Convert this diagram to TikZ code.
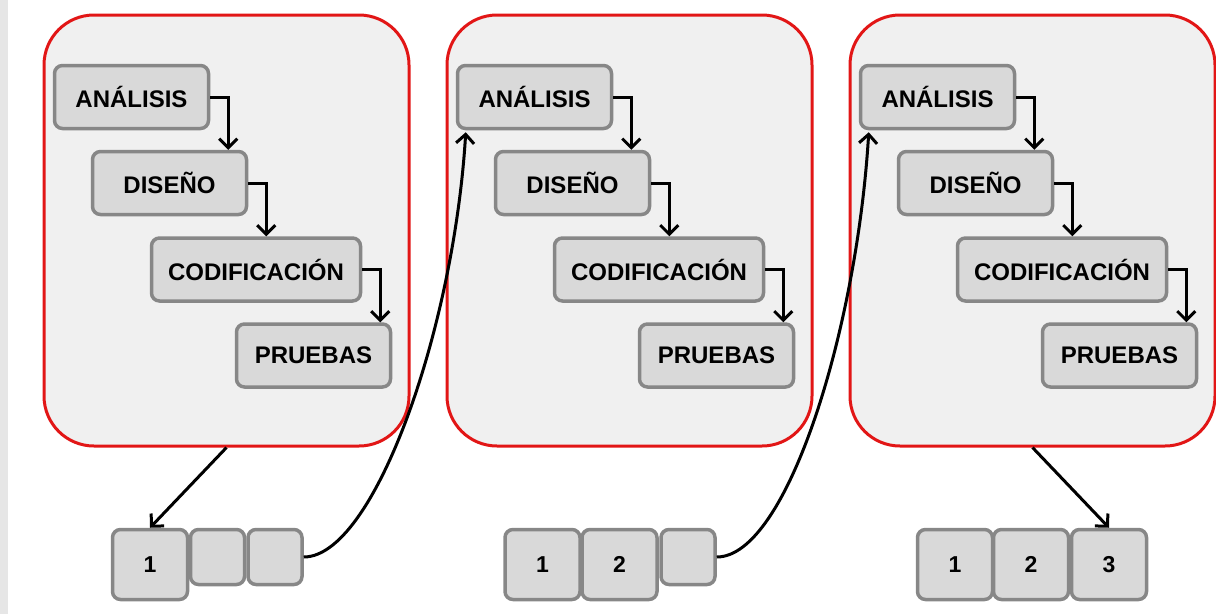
\documentclass[tikz,border=0pt]{standalone}
\usepackage{fontspec}
\setmainfont{Liberation Sans}
\usetikzlibrary{arrows.meta}
\definecolor{redline}{RGB}{226,22,22}
\definecolor{phasefill}{RGB}{240,240,240}
\definecolor{boxfill}{RGB}{217,217,217}
\definecolor{boxline}{RGB}{135,135,135}
\definecolor{stripgray}{RGB}{230,230,230}
\begin{document}
\begin{tikzpicture}[
x=1pt, y=-1pt,
phase/.style={rectangle, draw=redline, fill=phasefill, line width=3pt, rounded corners=50pt, minimum width=365pt, minimum height=431pt, inner sep=0pt},
task/.style={rectangle, draw=boxline, fill=boxfill, line width=3.5pt, rounded corners=8pt, minimum width=154pt, minimum height=63pt, font=\fontsize{24}{28}\selectfont\bfseries},
bigslot/.style={rectangle, draw=boxline, fill=boxfill, line width=3.5pt, rounded corners=8pt, minimum width=75pt, minimum height=70pt, font=\fontsize{23}{28}\selectfont\bfseries},
slot/.style={rectangle, draw=boxline, fill=boxfill, line width=3.5pt, rounded corners=8pt, minimum width=54pt, minimum height=55pt},
flow/.style={line width=3pt, -{Straight Barb[length=9pt, width=18pt]}},
]

\useasboundingbox (0,0) rectangle (1216,614);
\fill[stripgray] (0,0) rectangle (8,614);

\node (c1) [phase] at (226.5,230.5) {};
\node (c2) [phase] at (629.5,230.5) {};
\node (c3) [phase] at (1032.5,230.5) {};

\node (an1) [task] at (131.5,97) {ANÁLISIS};
\node (di1) [task] at (169.5,183) {DISEÑO};
\node (co1) [task, minimum width=209pt] at (256,269.5) {CODIFICACIÓN};
\node (pr1) [task] at (313.5,355.5) {PRUEBAS};

\node (an2) [task] at (534.5,97) {ANÁLISIS};
\node (di2) [task] at (572.5,183) {DISEÑO};
\node (co2) [task, minimum width=209pt] at (659,269.5) {CODIFICACIÓN};
\node (pr2) [task] at (716.5,355.5) {PRUEBAS};

\node (an3) [task] at (937.5,97) {ANÁLISIS};
\node (di3) [task] at (975.5,183) {DISEÑO};
\node (co3) [task, minimum width=209pt] at (1062,269.5) {CODIFICACIÓN};
\node (pr3) [task] at (1119.5,355.5) {PRUEBAS};

\draw[flow] (an1.east) -- ++(18,0) coordinate (k1) -- (k1 |- di1.north);
\draw[flow] (di1.east) -- ++(18,0) coordinate (k2) -- (k2 |- co1.north);
\draw[flow] (co1.east) -- ++(18,0) coordinate (k3) -- (k3 |- pr1.north);
\draw[flow] (an2.east) -- ++(18,0) coordinate (k4) -- (k4 |- di2.north);
\draw[flow] (di2.east) -- ++(18,0) coordinate (k5) -- (k5 |- co2.north);
\draw[flow] (co2.east) -- ++(18,0) coordinate (k6) -- (k6 |- pr2.north);
\draw[flow] (an3.east) -- ++(18,0) coordinate (k7) -- (k7 |- di3.north);
\draw[flow] (di3.east) -- ++(18,0) coordinate (k8) -- (k8 |- co3.north);
\draw[flow] (co3.east) -- ++(18,0) coordinate (k9) -- (k9 |- pr3.north);

\node (v11) [bigslot] at (150,564.5) {1};
\node (v12) [slot] at (217.5,557) {};
\node (v13) [slot] at (275,557) {};

\node (v21) [bigslot] at (542.5,564.5) {1};
\node (v22) [bigslot] at (619.5,564.5) {2};
\node (v23) [slot] at (688,557) {};

\node (v31) [bigslot] at (955,564.5) {1};
\node (v32) [bigslot] at (1031,564.5) {2};
\node (v33) [bigslot] at (1109,564.5) {3};

\draw[flow] (c1.south) -- (v11.north);
\draw[flow] (c3.south) -- (v33.north);
\draw[flow] (v13.east) .. controls +(70,0) and +(-12,198) .. ([xshift=10pt,yshift=-2pt]an2.south west);
\draw[flow] (v23.east) .. controls +(70,0) and +(-12,198) .. ([xshift=10pt,yshift=-2pt]an3.south west);
\end{tikzpicture}
\end{document}
